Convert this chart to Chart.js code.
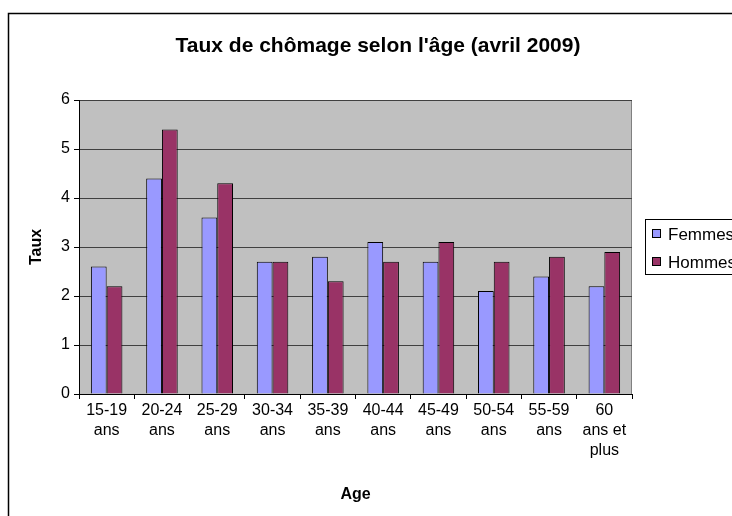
<!DOCTYPE html>
<html>
<head>
<meta charset="utf-8">
<script src="https://cdn.jsdelivr.net/npm/chart.js@4/dist/chart.umd.min.js"></script>
<style>
  html, body { margin: 0; padding: 0; background: #fff; }
  #wrap { width: 732px; height: 516px; position: relative; }
</style>
</head>
<body>
<div id="wrap"><canvas id="chart" width="732" height="516"></canvas></div>
<script>
var ages = [["15-19", "ans"], ["20-24", "ans"], ["25-29", "ans"], ["30-34", "ans"], ["35-39", "ans"],
            ["40-44", "ans"], ["45-49", "ans"], ["50-54", "ans"], ["55-59", "ans"], ["60", "ans et", "plus"]]
var femmes = [2.6, 4.4, 3.6, 2.7, 2.8, 3.1, 2.7, 2.1, 2.4, 2.2]
var hommes = [2.2, 5.4, 4.3, 2.7, 2.3, 2.7, 3.1, 2.7, 2.8, 2.9]
var yTicks = [0, 1, 2, 3, 4, 5, 6]
var titre = "Taux de chômage selon l'âge (avril 2009)"

var font = "Arial, 'Liberation Sans', sans-serif"

// gray plot area, outer frame, title and the excel-like legend box
var excelLook = {
  id: 'excelLook',
  beforeDraw: function(chart) {
    var c = chart.ctx, a = chart.chartArea
    c.save()
    c.fillStyle = '#C0C0C0'
    c.fillRect(a.left, a.top, a.right - a.left, a.bottom - a.top)
    c.strokeStyle = '#808080'
    c.lineWidth = 1
    c.strokeRect(a.left + 0.5, a.top + 0.5, a.right - a.left - 1, a.bottom - a.top)
    c.restore()
  },
  afterDraw: function(chart) {
    var c = chart.ctx
    c.save()
    c.strokeStyle = '#000'
    c.lineWidth = 1.5
    c.strokeRect(8.5, 13.5, 740, 520)
    // title
    c.fillStyle = '#000'
    c.font = 'bold 21px ' + font
    c.textAlign = 'center'
    c.textBaseline = 'middle'
    c.fillText(titre, 378, 46)
    // legend
    c.textAlign = 'left'
    c.lineWidth = 1
    c.strokeRect(645.5, 219.5, 100, 55)
    var rows = [234, 262]
    chart.data.datasets.forEach(function(ds, i) {
      c.fillStyle = ds.backgroundColor
      c.fillRect(652.5, rows[i] - 4.5, 8, 8)
      c.strokeStyle = '#000'
      c.strokeRect(652.5, rows[i] - 4.5, 8, 8)
      c.fillStyle = '#000'
      c.font = '17px ' + font
      c.fillText(ds.label, 668, rows[i] + 1)
    })
    c.restore()
  }
}

var ctx = document.getElementById('chart').getContext('2d')
new Chart(ctx, {
  type: 'bar',
  data: {
    labels: ages,
    datasets: [
      {
        label: 'Femmes',
        data: femmes,
        backgroundColor: '#9999FF',
        borderColor: '#000',
        borderWidth: 1
      },
      {
        label: 'Hommes',
        data: hommes,
        backgroundColor: '#993366',
        borderColor: '#000',
        borderWidth: 1
      }
    ]
  },
  options: {
    responsive: false,
    animation: false,
    layout: { padding: { left: 0, right: 100, top: 100, bottom: 0 } },
    datasets: { bar: { categoryPercentage: 0.57, barPercentage: 1 } },
    plugins: {
      legend: { display: false },
      tooltip: { enabled: false },
      title: { display: false }
    },
    scales: {
      x: {
        grid: { display: true, drawOnChartArea: false, offset: true, color: '#000', tickLength: 5 },
        border: { display: true, color: '#000' },
        ticks: {
          color: '#000',
          font: { family: font, size: 16, lineHeight: 1.25 },
          padding: 2,
          maxRotation: 0,
          autoSkip: false
        },
        title: {
          display: true,
          text: 'Age',
          color: '#000',
          font: { family: font, size: 16, weight: 'bold' },
          padding: { top: 0, bottom: 12 }
        },
        afterFit: function(scale) { scale.height = 122 }
      },
      y: {
        min: 0,
        max: 6,
        afterBuildTicks: function(scale) {
          scale.ticks = yTicks.map(function(v) { return { value: v } })
        },
        grid: { color: '#404040', tickColor: '#000', tickLength: 5 },
        border: { display: true, color: '#000' },
        ticks: {
          color: '#000',
          font: { family: font, size: 16 },
          padding: 4
        },
        title: {
          display: true,
          text: 'Taux',
          color: '#000',
          font: { family: font, size: 16, weight: 'bold' },
          padding: { top: 27, bottom: 0 }
        },
        afterFit: function(scale) { scale.width = 79 }
      }
    }
  },
  plugins: [excelLook]
})
</script>
</body>
</html>
